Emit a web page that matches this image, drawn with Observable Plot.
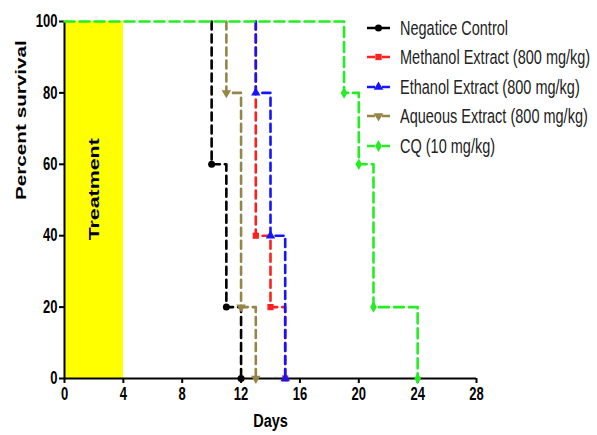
<!DOCTYPE html>
<html>
<head>
<meta charset="utf-8">
<script src="https://cdn.jsdelivr.net/npm/d3@7"></script>
<script src="https://cdn.jsdelivr.net/npm/@observablehq/plot@0.6"></script>
<style>
  body { margin: 0; background: #fff; }
  #wrap { position: relative; width: 597px; height: 435px; overflow: hidden; font-family: "Liberation Sans", Arial, sans-serif; }
  #legend { position: absolute; left: 367px; top: 13px; }
  .row { height: 29.5px; display: flex; align-items: center; }
  .row svg { flex: none; }
  .row span { display: inline-block; margin-left: 10px; font-size: 14.5px; color: #222; white-space: nowrap; transform: scaleY(1.4); transform-origin: 50% 50%; }
</style>
</head>
<body>
<div id="wrap"><div id="legend"></div></div>
<script>
// ---- data ----
const seriesNames = ["Negatice Control", "Methanol Extract (800 mg/kg)", "Ethanol Extract (800 mg/kg)", "Aqueous Extract (800 mg/kg)", "CQ (10 mg/kg)"];
const seriesColors = ["#000000", "#ff1f1f", "#1414ff", "#958547", "#22ee22"];
const seriesSymbols = ["circle", "square", "triangle", "triangle", "diamond"];
const seriesSymbolRotate = [0, 0, 0, 180, 0];
const stepDays = [
  [0, 10, 11, 12],
  [0, 13, 14, 15],
  [0, 13, 14, 15],
  [0, 11, 12, 13],
  [0, 19, 20, 21, 24]
];
const stepSurvival = [
  [100, 60, 20, 0],
  [100, 40, 20, 0],
  [100, 80, 40, 0],
  [100, 80, 20, 0],
  [100, 80, 60, 20, 0]
];
const drawOrder = [0, 3, 1, 2, 4];
const xTicks = [0, 4, 8, 12, 16, 20, 24, 28];
const yTicks = [0, 20, 40, 60, 80, 100];
const treatmentStart = 0;
const treatmentEnd = 4;
const treatmentLabel = "Treatment";
const treatmentLabelY = 53;

// ---- build tables ----
const tables = seriesNames.map((name, s) =>
  stepDays[s].map((d, i) => ({ series: name, day: d, survival: stepSurvival[s][i], idx: i }))
);
// in the reference only the last-drawn series shows its initial 100% plateau
const lastSeries = drawOrder[drawOrder.length - 1];
const lineTables = tables.map((t, s) =>
  s === lastSeries ? t : [{ ...t[0], day: t[1].day }, ...t.slice(1)]
);

const marks = [
  Plot.rect([{ x1: treatmentStart, x2: treatmentEnd, y1: 0, y2: 100 }], { x1: "x1", x2: "x2", y1: "y1", y2: "y2", fill: "#ffff00" }),
  Plot.text([treatmentLabel], { x: (treatmentStart + treatmentEnd) / 2, y: treatmentLabelY, rotate: -90, fontSize: 15.5, fontWeight: "bold", fill: "#000" }),
  Plot.ruleX([0], { stroke: "#000", strokeWidth: 2 }),
  Plot.ruleY([0], { stroke: "#000", strokeWidth: 2 }),
  Plot.axisX(xTicks, { tickSize: 5, tickPadding: 4, strokeWidth: 2, fontSize: 13, fontWeight: "bold", label: null }),
  Plot.axisY(yTicks, { tickSize: 5, tickPadding: 2, strokeWidth: 2, fontSize: 13, fontWeight: "bold", label: null }),
  Plot.text(["Days"], { frameAnchor: "bottom", lineAnchor: "middle", dy: 43, fontSize: 14.5, fontWeight: "bold", fill: "#000" }),
  Plot.text(["Percent survival"], { frameAnchor: "left", dx: -43, rotate: -90, fontSize: 15, fontWeight: "bold", fill: "#000" })
];

for (const s of drawOrder) {
  marks.push(Plot.line(lineTables[s], {
    x: "day", y: "survival", curve: "step-after",
    stroke: seriesColors[s], strokeWidth: 2.6,
    strokeDasharray: s === 4 ? "10,5" : "8,5"
  }));
}
for (const s of drawOrder) {
  marks.push(Plot.dot(tables[s].filter(d => d.idx > 0), {
    x: "day", y: "survival", symbol: () => seriesSymbols[s],
    rotate: seriesSymbolRotate[s], r: 3.5, fill: seriesColors[s], stroke: "none"
  }));
}

const chart = Plot.plot({
  width: 597,
  height: 435,
  marginLeft: 64,
  marginRight: 121,
  marginTop: 21,
  marginBottom: 57,
  style: { fontFamily: "Liberation Sans, Arial, sans-serif", color: "#000", background: "#fff" },
  x: { domain: [0, 28], label: null },
  y: { domain: [0, 100], label: null },
  symbol: { type: "identity" },
  marks
});

// mimic the reference's vertical stretch of the glyphs
chart.querySelectorAll("text").forEach(t => {
  const tr = t.getAttribute("transform");
  if (!tr) return;
  const k = t.textContent === "Days" ? 1.25 : 1.38;
  if (tr.includes("rotate(-90)")) t.setAttribute("transform", tr + ` scale(${k},1)`);
  else t.setAttribute("transform", tr + ` scale(1,${k})`);
});

const wrap = document.getElementById("wrap");
wrap.insertBefore(chart, wrap.firstChild);

// ---- legend ----
const legend = d3.select("#legend");
const symMap = { circle: d3.symbolCircle, square: d3.symbolSquare, triangle: d3.symbolTriangle, diamond: d3.symbolDiamond };
seriesNames.forEach((name, s) => {
  const row = legend.append("div").attr("class", "row");
  const svg = row.append("svg").attr("width", 23).attr("height", 12);
  svg.append("line").attr("x1", 0).attr("x2", 23).attr("y1", 6).attr("y2", 6)
    .attr("stroke", seriesColors[s]).attr("stroke-width", 2.6).attr("stroke-dasharray", "8,7");
  svg.append("path").attr("d", d3.symbol(symMap[seriesSymbols[s]], 40)())
    .attr("transform", `translate(11.5,6) rotate(${seriesSymbolRotate[s]})`)
    .attr("fill", seriesColors[s]);
  row.append("span").text(name);
});
</script>
</body>
</html>
